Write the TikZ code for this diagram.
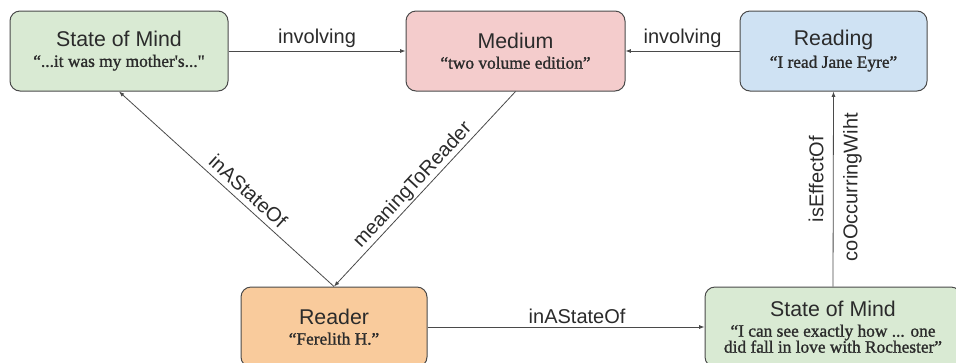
\documentclass[tikz,border=0pt]{standalone}
\usepackage{fontspec}
\setmainfont{Liberation Sans}
\newfontfamily\quotefont[FakeBold=1.2]{Liberation Serif}
\usepackage{xcolor}
\usetikzlibrary{shapes,arrows,positioning,calc,arrows.meta}

\definecolor{mindgreen}{HTML}{D9EAD3}
\definecolor{mediumred}{HTML}{F4CCCC}
\definecolor{readingblue}{HTML}{CFE2F3}
\definecolor{readerorange}{HTML}{F9CB9C}
\definecolor{edgegray}{HTML}{4A4A4A}
\definecolor{textgray}{HTML}{2B2B2B}

\newcommand{\titletext}{\fontsize{16}{18}\selectfont}
\newcommand{\quotetext}{\quotefont\fontsize{13}{15}\selectfont}

\begin{document}
\begin{tikzpicture}[x=0.75pt,y=-0.75pt,
    box/.style={draw=edgegray, line width=0.75pt, rounded corners=7.5pt, minimum height=60pt, align=center, inner sep=0pt, text=textgray},
    link/.style={-{Latex[length=4pt,width=3pt]}, line width=0.6pt, draw=edgegray},
    lbl/.style={font=\fontsize{15}{17}\selectfont, text=textgray, inner sep=2pt}]
    \useasboundingbox (0,0) rectangle (956,362);
    % Top row
    \node[box, fill=mindgreen, minimum width=163.5pt] (mindA) at (119,51) {\titletext State of Mind\\[3pt]\quotetext “...it was my mother's..."};
    \node[box, fill=mediumred, minimum width=164.25pt] (medium) at (515.5,51) {\titletext Medium\\[3pt]\quotetext “two volume edition”};
    \node[box, fill=readingblue, minimum width=140.25pt] (reading) at (833.5,51) {\titletext Reading\\[3pt]\quotetext “I read Jane Eyre”};
    % Bottom row
    \node[box, fill=readerorange, minimum width=139.5pt] (reader) at (334,327) {\titletext Reader\\[3pt]\quotetext “Ferelith H.”};
    \node[box, fill=mindgreen, minimum width=192pt] (mindB) at (833,327) {\titletext State of Mind\\[3pt]\quotetext “I can see exactly how ... one\\\quotetext did fall in love with Rochester”};
    % Relations
    \draw[link] (mindA) -- node[lbl, above] {involving} (medium);
    \draw[link] (reading) -- node[lbl, above] {involving} (medium);
    \draw[link] (reader) -- node[lbl, above, pos=0.54] {inAStateOf} (mindB);
    \draw[link] (reader.north) -- node[lbl, sloped, above=2pt, pos=0.44] {inAStateOf} (mindA.south);
    \draw[link] (medium.south) -- node[lbl, sloped, above=-1pt, pos=0.52] {meaningToReader} (reader.north);
    \draw[link] (mindB.north) -- node[lbl, sloped, above=5pt, pos=0.55] {isEffectOf} node[lbl, sloped, below=5pt, pos=0.51] {coOccurringWiht} (reading.south);
\end{tikzpicture}
\end{document}
